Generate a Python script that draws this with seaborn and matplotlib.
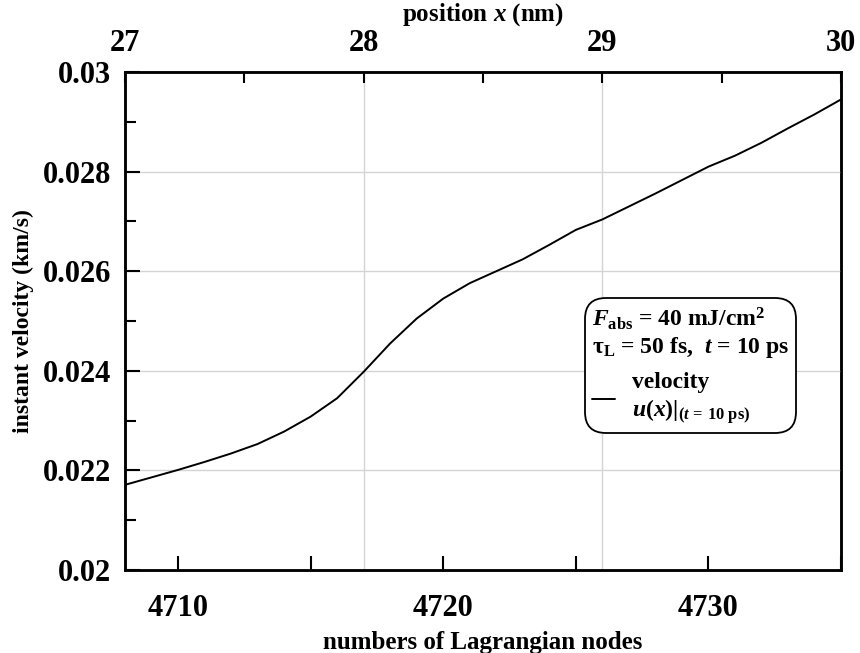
import matplotlib
matplotlib.use('Agg')
import matplotlib.pyplot as plt
from matplotlib.ticker import MultipleLocator, FixedLocator
from matplotlib.lines import Line2D
import seaborn as sns

# Lagrangian node numbers and instant velocity (km/s) at t = 10 ps
nodes = list(range(4708, 4736))
velocity = [0.02171, 0.02186, 0.02201, 0.02217, 0.02234, 0.02253, 0.02278,
            0.02308, 0.02345, 0.02398, 0.02455, 0.02505, 0.02545, 0.02576,
            0.02600, 0.02624, 0.02653, 0.02683, 0.02704, 0.02730, 0.02756,
            0.02783, 0.02810, 0.02832, 0.02858, 0.02887, 0.02915, 0.02945]

y_ticks = [0.02, 0.022, 0.024, 0.026, 0.028, 0.03]
y_labels = ['0.02', '0.022', '0.024', '0.026', '0.028', '0.03']
x_ticks = [4710, 4720, 4730]
top_ticks = [27, 28, 29, 30]
top_range = (27, 30)

sns.set_theme(style='ticks')
plt.rcParams['font.family'] = ['Liberation Serif', 'DejaVu Serif']
plt.rcParams['font.weight'] = 'bold'
plt.rcParams['axes.labelweight'] = 'bold'
plt.rcParams['text.color'] = 'black'
plt.rcParams['axes.labelcolor'] = 'black'
plt.rcParams['xtick.color'] = 'black'
plt.rcParams['ytick.color'] = 'black'
plt.rcParams['mathtext.fontset'] = 'custom'
plt.rcParams['mathtext.rm'] = 'Liberation Serif:bold'
plt.rcParams['mathtext.bf'] = 'Liberation Serif:bold'
plt.rcParams['mathtext.it'] = 'Liberation Serif:bold:italic'

fig = plt.figure(figsize=(8.6, 6.53), dpi=100)
ax = fig.add_axes([0.1453, 0.1271, 0.8327, 0.7626])
ax2 = ax.twiny()

sns.lineplot(x=nodes, y=velocity, ax=ax, color='black', linewidth=1.4)

ax.set_xlim(nodes[0], nodes[-1])
ax.set_ylim(y_ticks[0], y_ticks[-1])
ax.yaxis.set_major_locator(FixedLocator(y_ticks))
ax.set_yticklabels(y_labels)
ax.yaxis.set_minor_locator(MultipleLocator(0.001))
ax.xaxis.set_major_locator(FixedLocator(x_ticks))
ax.xaxis.set_minor_locator(MultipleLocator(5))
ax.grid(axis='y', color='#d4d4d4', linewidth=1.0)
ax.tick_params(which='both', direction='in', top=False, right=False,
               labelsize=22, width=1.5, color='black', labelcolor='black')
ax.tick_params(axis='y', which='major', length=11, pad=10)
ax.tick_params(axis='y', which='minor', length=8)
ax.tick_params(axis='x', which='major', length=10, pad=17)
ax.tick_params(axis='x', which='minor', length=10)
ax.set_xlabel('numbers of Lagrangian nodes', fontsize=18, labelpad=6,
              color='black')
ax.set_ylabel('instant velocity (km/s)', fontsize=17, labelpad=6,
              color='black')

ax2.set_xlim(*top_range)
ax2.xaxis.set_major_locator(FixedLocator(top_ticks))
ax2.xaxis.set_minor_locator(MultipleLocator(0.5))
ax2.grid(axis='x', color='#d4d4d4', linewidth=1.0)
ax2.tick_params(which='both', direction='in', labelsize=22, width=1.5,
                length=8, pad=10, color='black', labelcolor='black')
ax2.set_xlabel('position $x$ (nm)', fontsize=18, labelpad=6, color='black')

ax.set_zorder(ax2.get_zorder() + 1)
ax.patch.set_visible(False)

for a in (ax, ax2):
    for s in a.spines.values():
        s.set_linewidth(1.8)
        s.set_color('black')

handle = Line2D([], [], color='black', linewidth=1.4)
leg = ax.legend([handle], ['velocity\n$u(x)|_{(t\\,=\\,10\\ \\rm ps)}$'],
                title='$F_{\\rm abs}$ = 40 mJ/cm$^{2}$\nτ$_{\\rm L}$ = 50 fs,  $t$ = 10 ps',
                loc='upper left', bbox_to_anchor=(0.642, 0.546),
                borderaxespad=0, fontsize=17, title_fontsize=17,
                alignment='left', handlelength=1.0, handletextpad=0.7,
                borderpad=0.3, frameon=True, fancybox=True)
frame = leg.get_frame()
frame.set_edgecolor('black')
frame.set_linewidth(1.3)
frame.set_alpha(1)
frame.set_boxstyle('round', pad=0, rounding_size=0.9)
for t in leg.get_texts() + [leg.get_title()]:
    t.set_color('black')

fig.savefig('out.png', dpi=100)
